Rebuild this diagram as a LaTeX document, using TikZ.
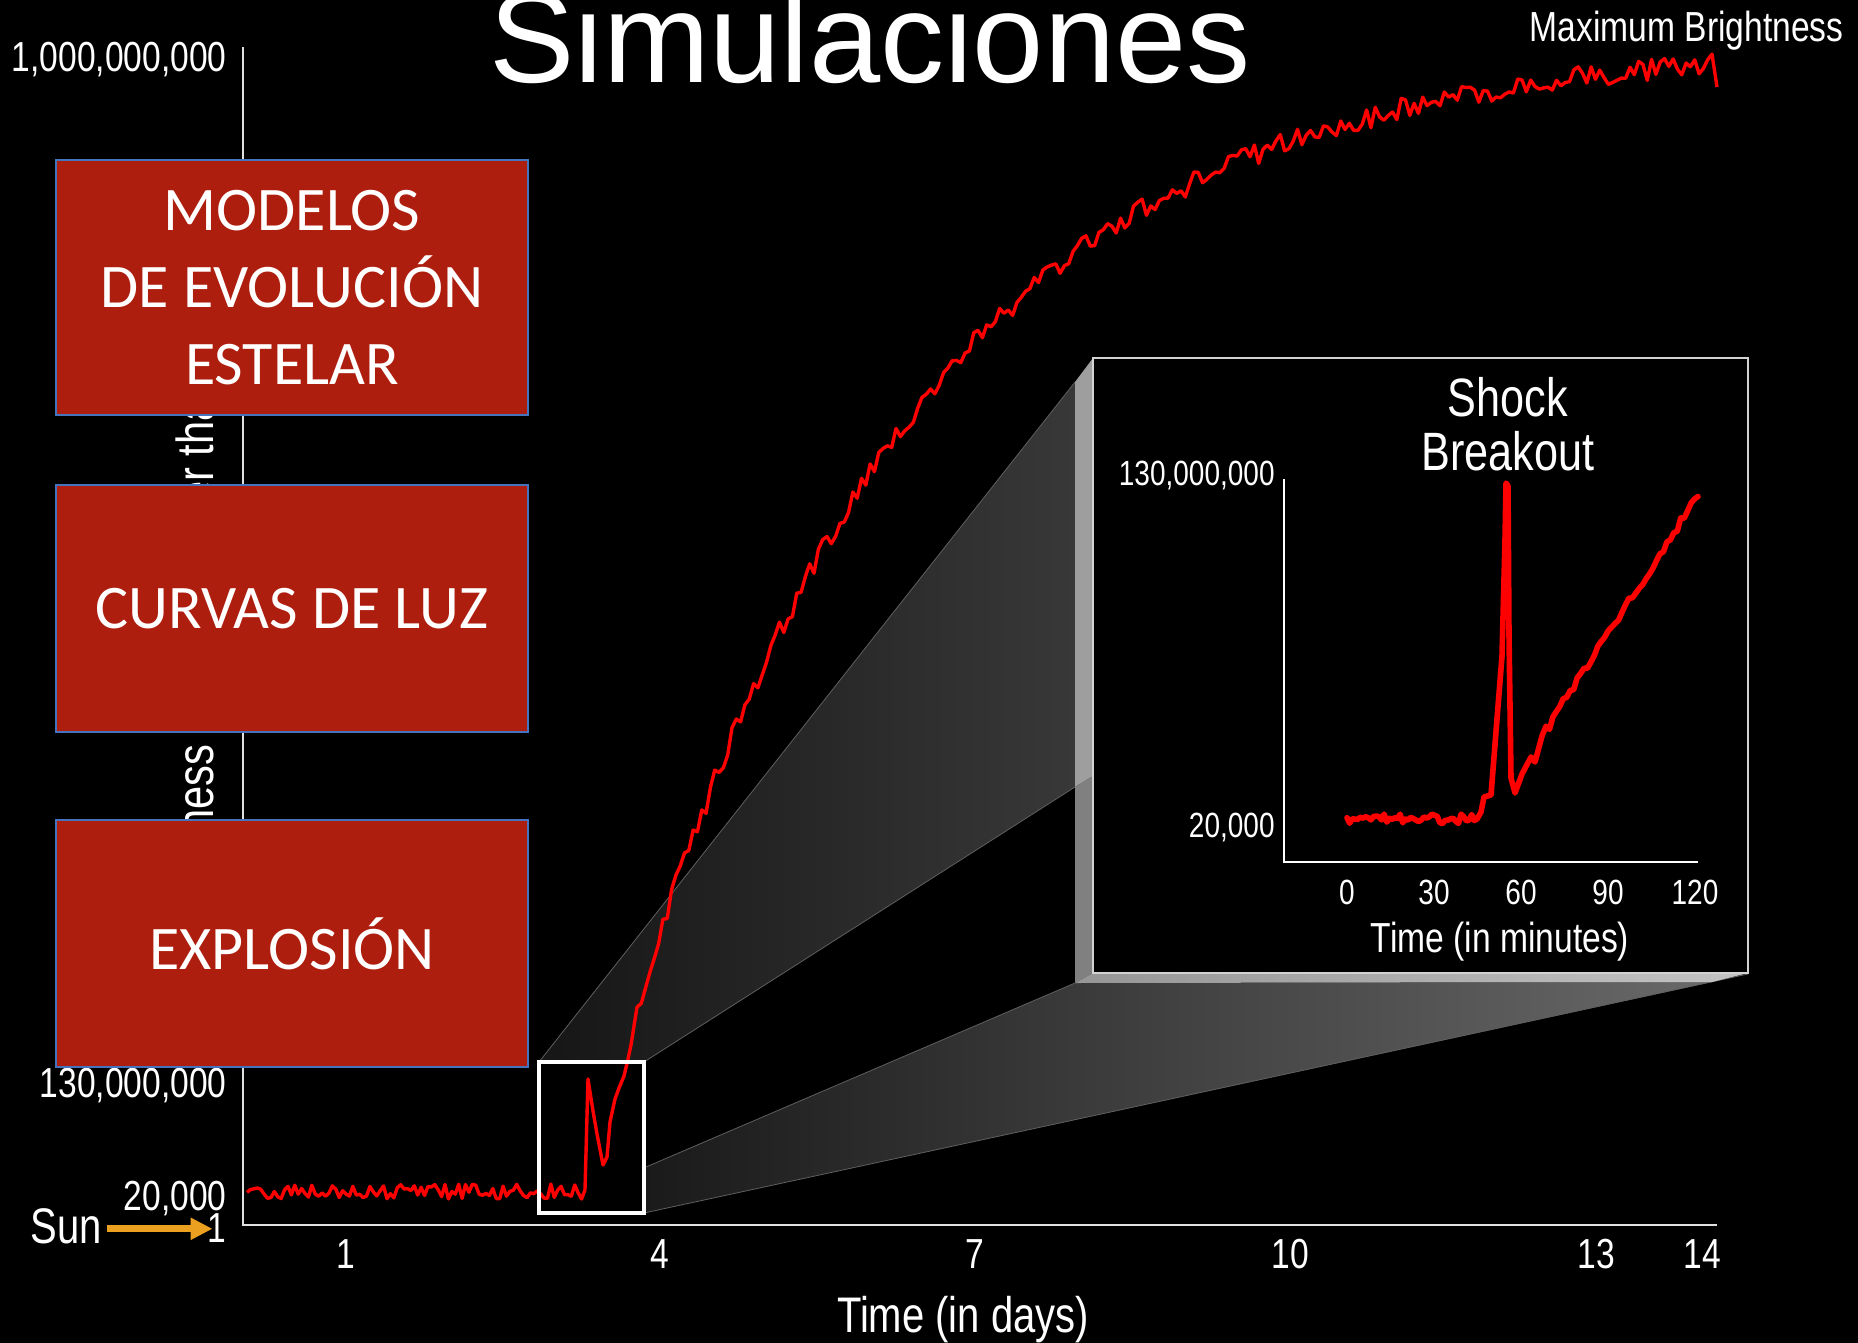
\documentclass[tikz,border=0pt]{standalone}
\usepackage{fontspec}
\setmainfont{Liberation Sans}
\newfontfamily\thinf[FakeStretch=0.8]{Liberation Sans}
\newfontfamily\boxf{Carlito}
\usetikzlibrary{arrows.meta,calc}
\definecolor{boxred}{RGB}{174,30,14}
\definecolor{boxblue}{RGB}{70,115,190}
\definecolor{sunorange}{RGB}{236,160,32}
\definecolor{axisgray}{RGB}{225,225,225}
\definecolor{edgegray}{RGB}{95,95,95}
\definecolor{wedgeA}{RGB}{22,22,22}
\definecolor{wedgeB}{RGB}{56,56,56}
\definecolor{beamA}{RGB}{26,26,26}
\definecolor{beamB}{RGB}{105,105,105}
\definecolor{faceup}{RGB}{158,158,158}
\definecolor{facelow}{RGB}{128,128,128}
\definecolor{bandA}{RGB}{150,150,150}
\definecolor{bandB}{RGB}{195,195,195}
\definecolor{framegray}{RGB}{210,210,210}
\begin{document}
\begin{tikzpicture}[x=0.5pt,y=-0.5pt,
 lab/.style={text=white, inner sep=0pt, font=\thinf\fontsize{21}{25}\selectfont},
 smalllab/.style={text=white, inner sep=0pt, font=\thinf\fontsize{17.5}{21}\selectfont},
 biglab/.style={text=white, inner sep=0pt, font=\thinf\fontsize{25}{30}\selectfont},
 redbox/.style={rectangle, fill=boxred, draw=boxblue, line width=0.8pt, text=white, align=center, minimum width=236pt, inner sep=0pt, font=\boxf\fontsize{31}{38.5}\selectfont},
 redcurve/.style={draw=red, line width=1.7pt, line join=round},
 insetcurve/.style={draw=red, line width=2.8pt, line join=round, line cap=round},
 edgeline/.style={draw=edgegray, line width=0.4pt},
 sunarrow/.style={draw=sunorange, line width=3.5pt, -{Triangle[length=11pt,width=10.5pt]}},
]
\useasboundingbox (0,0) rectangle (1858,1343);
\fill[black] (0,0) rectangle (1858,1343);

% rotated axis label (mostly hidden behind the boxes)
\node[text=white, inner sep=0pt, font=\thinf\fontsize{26}{30}\selectfont, rotate=90, anchor=base west] (ylabel) at (213,942) {Brightness (times brighter than the Sun)};

% main axes
\coordinate (ytop) at (243,47);
\coordinate (orig) at (243,1225);
\coordinate (xend) at (1717,1225);
\draw[axisgray, line width=0.8pt] (ytop) -- (orig) -- (xend);

% y labels
\node[lab, anchor=base east] (y1e9) at (227,72) {1,000,000,000};
\node[lab, anchor=base east] (y130) at (227,1097) {130,000,000};
\node[lab, anchor=base east] (y20) at (227,1210) {20,000};
\node[lab, anchor=base east] (one) at (227,1242) {1};
\node[biglab, anchor=base east] (sun) at (102,1243) {Sun};
\draw[sunarrow] ($(sun.east)+(5,3)$) -- ($(sun.east -| one.west)+(5,3)$);

% x labels
\node[lab, anchor=base] (d1) at (346,1268) {1};
\node[lab, anchor=base] (d4) at (660,1268) {4};
\node[lab, anchor=base] (d7) at (975,1268) {7};
\node[lab, anchor=base] (d10) at (1290,1268) {10};
\node[lab, anchor=base] (d13) at (1596,1268) {13};
\node[lab, anchor=base] (d14) at (1702,1268) {14};
\node[biglab, anchor=base] (xlabel) at (963,1332) {Time (in days)};

% projection beams
\shade[left color=wedgeA, right color=wedgeB] (539,1062) -- (1075,382) -- (1075,787) -- (644,1062) -- cycle;
\shade[left color=beamA, right color=beamB] (646,1167) -- (1075,983) -- (1712,982) -- (644,1213) -- cycle;
\draw[edgeline] (539,1062) -- (1075,382);
\draw[edgeline] (644,1062) -- (1075,787);
\draw[edgeline] (646,1167) -- (1075,983);
\draw[edgeline] (644,1213) -- (1748,974);
\fill[faceup] (1075,382) -- (1093,358) -- (1093,776) -- (1075,787) -- cycle;
\fill[facelow] (1075,787) -- (1093,776) -- (1093,973) -- (1075,983) -- cycle;
\shade[left color=bandA, right color=bandB] (1075,983) -- (1093,973) -- (1748,973) -- (1712,982) -- cycle;

% main light curve
\pgfmathsetseed{11}
\draw[redcurve] plot[domain=247:585, samples=100] (\x,{1192+8*rand})
  -- (588,1079) -- (593,1111) -- (597,1134) -- (603,1165) -- (607,1157) -- (610,1122)
  -- (615,1099) -- (619,1088) -- (624,1076) -- (628,1059) -- (631,1045)
  -- plot[domain=637:1712, samples=250] (\x,{40+941*exp(-(\x-645)/290)+11*rand})
  -- (1717,87);

% zoom box
\node[draw=white, line width=2pt, minimum width=52.5pt, minimum height=75.5pt, inner sep=0pt] (zoombox) at (591.5,1137.5) {};

% inset panel
\node[fill=black, draw=framegray, line width=1pt, minimum width=327.5pt, minimum height=307.5pt, inner sep=0pt] (inset) at (1420.5,665.5) {};
\coordinate (itop) at (1284,479);
\coordinate (iorig) at (1284,862);
\coordinate (iend) at (1698,862);
\draw[white, line width=0.75pt] (itop) -- (iorig) -- (iend);
\node[smalllab, anchor=base east] (i130) at (1275,485) {130,000,000};
\node[smalllab, anchor=base east] (i20) at (1275,837) {20,000};
\node[smalllab, anchor=base] (m0) at (1347,904) {0};
\node[smalllab, anchor=base] (m30) at (1434,904) {30};
\node[smalllab, anchor=base] (m60) at (1521,904) {60};
\node[smalllab, anchor=base] (m90) at (1608,904) {90};
\node[smalllab, anchor=base] (m120) at (1695,904) {120};
\node[lab, anchor=base] (ixlabel) at (1500,952) {Time (in minutes)};
\node[text=white, inner sep=0pt, align=center, font=\thinf\fontsize{27}{27}\selectfont, anchor=north] (shock) at (1508,377) {Shock\\Breakout};
\draw[insetcurve] plot[domain=1347:1477, samples=50] (\x,{819+5*rand})
  -- (1481,812) -- (1484,797) -- (1491,795) -- (1497,719) -- (1502,656) -- (1505,540)
  -- (1506,483) -- (1508,486) -- (1509,635) -- (1511,778) -- (1515,793) -- (1522,774)
  -- (1531,757) -- (1535,762) -- (1542,736)
  -- plot[domain=1546:1698, samples=45] (\x,{736-(\x-1542)*1.54+5*rand});

% red boxes
\node[redbox, minimum height=127.5pt] (b1) at (292,287.5) {MODELOS\\DE EVOLUCIÓN\\ESTELAR};
\node[redbox, minimum height=123.5pt] (b2) at (292,608.5) {CURVAS DE LUZ};
\node[redbox, minimum height=123.5pt] (b3) at (292,943.5) {EXPLOSIÓN};

% titles
\node[text=white, inner sep=0pt, anchor=base west, font=\fontsize{64}{70}\selectfont] (title) at (489,83) {Simulaciones};
\node[lab, anchor=base east] (maxb) at (1844,42) {Maximum Brightness};
\end{tikzpicture}
\end{document}
